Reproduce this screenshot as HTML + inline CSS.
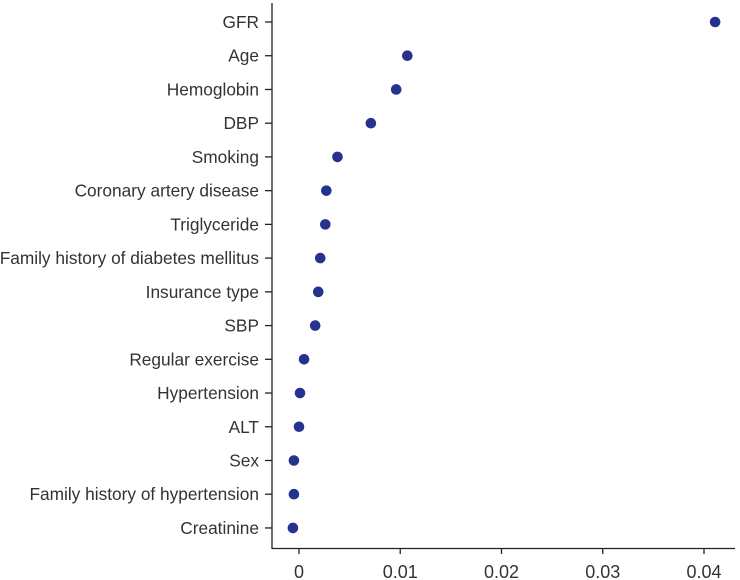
<!DOCTYPE html>
<html><head><meta charset="utf-8"><style>
html,body{margin:0;padding:0;background:#fff;}
svg{display:block;font-family:"Liberation Sans",Arial,sans-serif;}
</style></head><body>
<svg id="chart" width="740" height="580"></svg>
<script>
const categories=["GFR","Age","Hemoglobin","DBP","Smoking","Coronary artery disease","Triglyceride","Family history of diabetes mellitus","Insurance type","SBP","Regular exercise","Hypertension","ALT","Sex","Family history of hypertension","Creatinine"];
const importance=[0.0411,0.0107,0.0096,0.0071,0.0038,0.0027,0.0026,0.0021,0.0019,0.0016,0.0005,0.0001,0.0000,-0.0005,-0.0005,-0.0006];
const xTicks=[0,0.01,0.02,0.03,0.04];
const xTickLabels=["0","0.01","0.02","0.03","0.04"];
const NS="http://www.w3.org/2000/svg";
const svg=document.getElementById('chart');
const x=v=>299+v*10125;
const y=i=>22+i*33.73;
function mk(t,a,p){const e=document.createElementNS(NS,t);for(const k in a)e.setAttribute(k,a[k]);(p||svg).appendChild(e);return e;}
const yAxis=mk('line',{x1:272,y1:3,x2:272,y2:549,stroke:'#222','stroke-width':1.3});


const xAxis=mk('line',{x1:272,y1:548.5,x2:735,y2:548.5,stroke:'#222','stroke-width':1.3});


xTicks.forEach((t,i)=>{
  const tk=mk('line',{x1:x(t),y1:548,x2:x(t),y2:554,stroke:'#222','stroke-width':1.3});
  
  
  const lb=mk('text',{x:x(t),y:578,'text-anchor':'middle','font-size':18,fill:'#333'});
  lb.textContent=xTickLabels[i];
  
  
});
categories.forEach((c,i)=>{
  const tk=mk('line',{x1:265,y1:y(i),x2:272,y2:y(i),stroke:'#222','stroke-width':1.3});
  
  
  const lb=mk('text',{x:259,y:y(i)+6,'text-anchor':'end','font-size':17.3,fill:'#333'});
  lb.textContent=c;
  
  
  const d=mk('circle',{cx:x(importance[i]),cy:y(i),r:5.3,fill:'#25338f'});
  
  
});
</script>
</body></html>
